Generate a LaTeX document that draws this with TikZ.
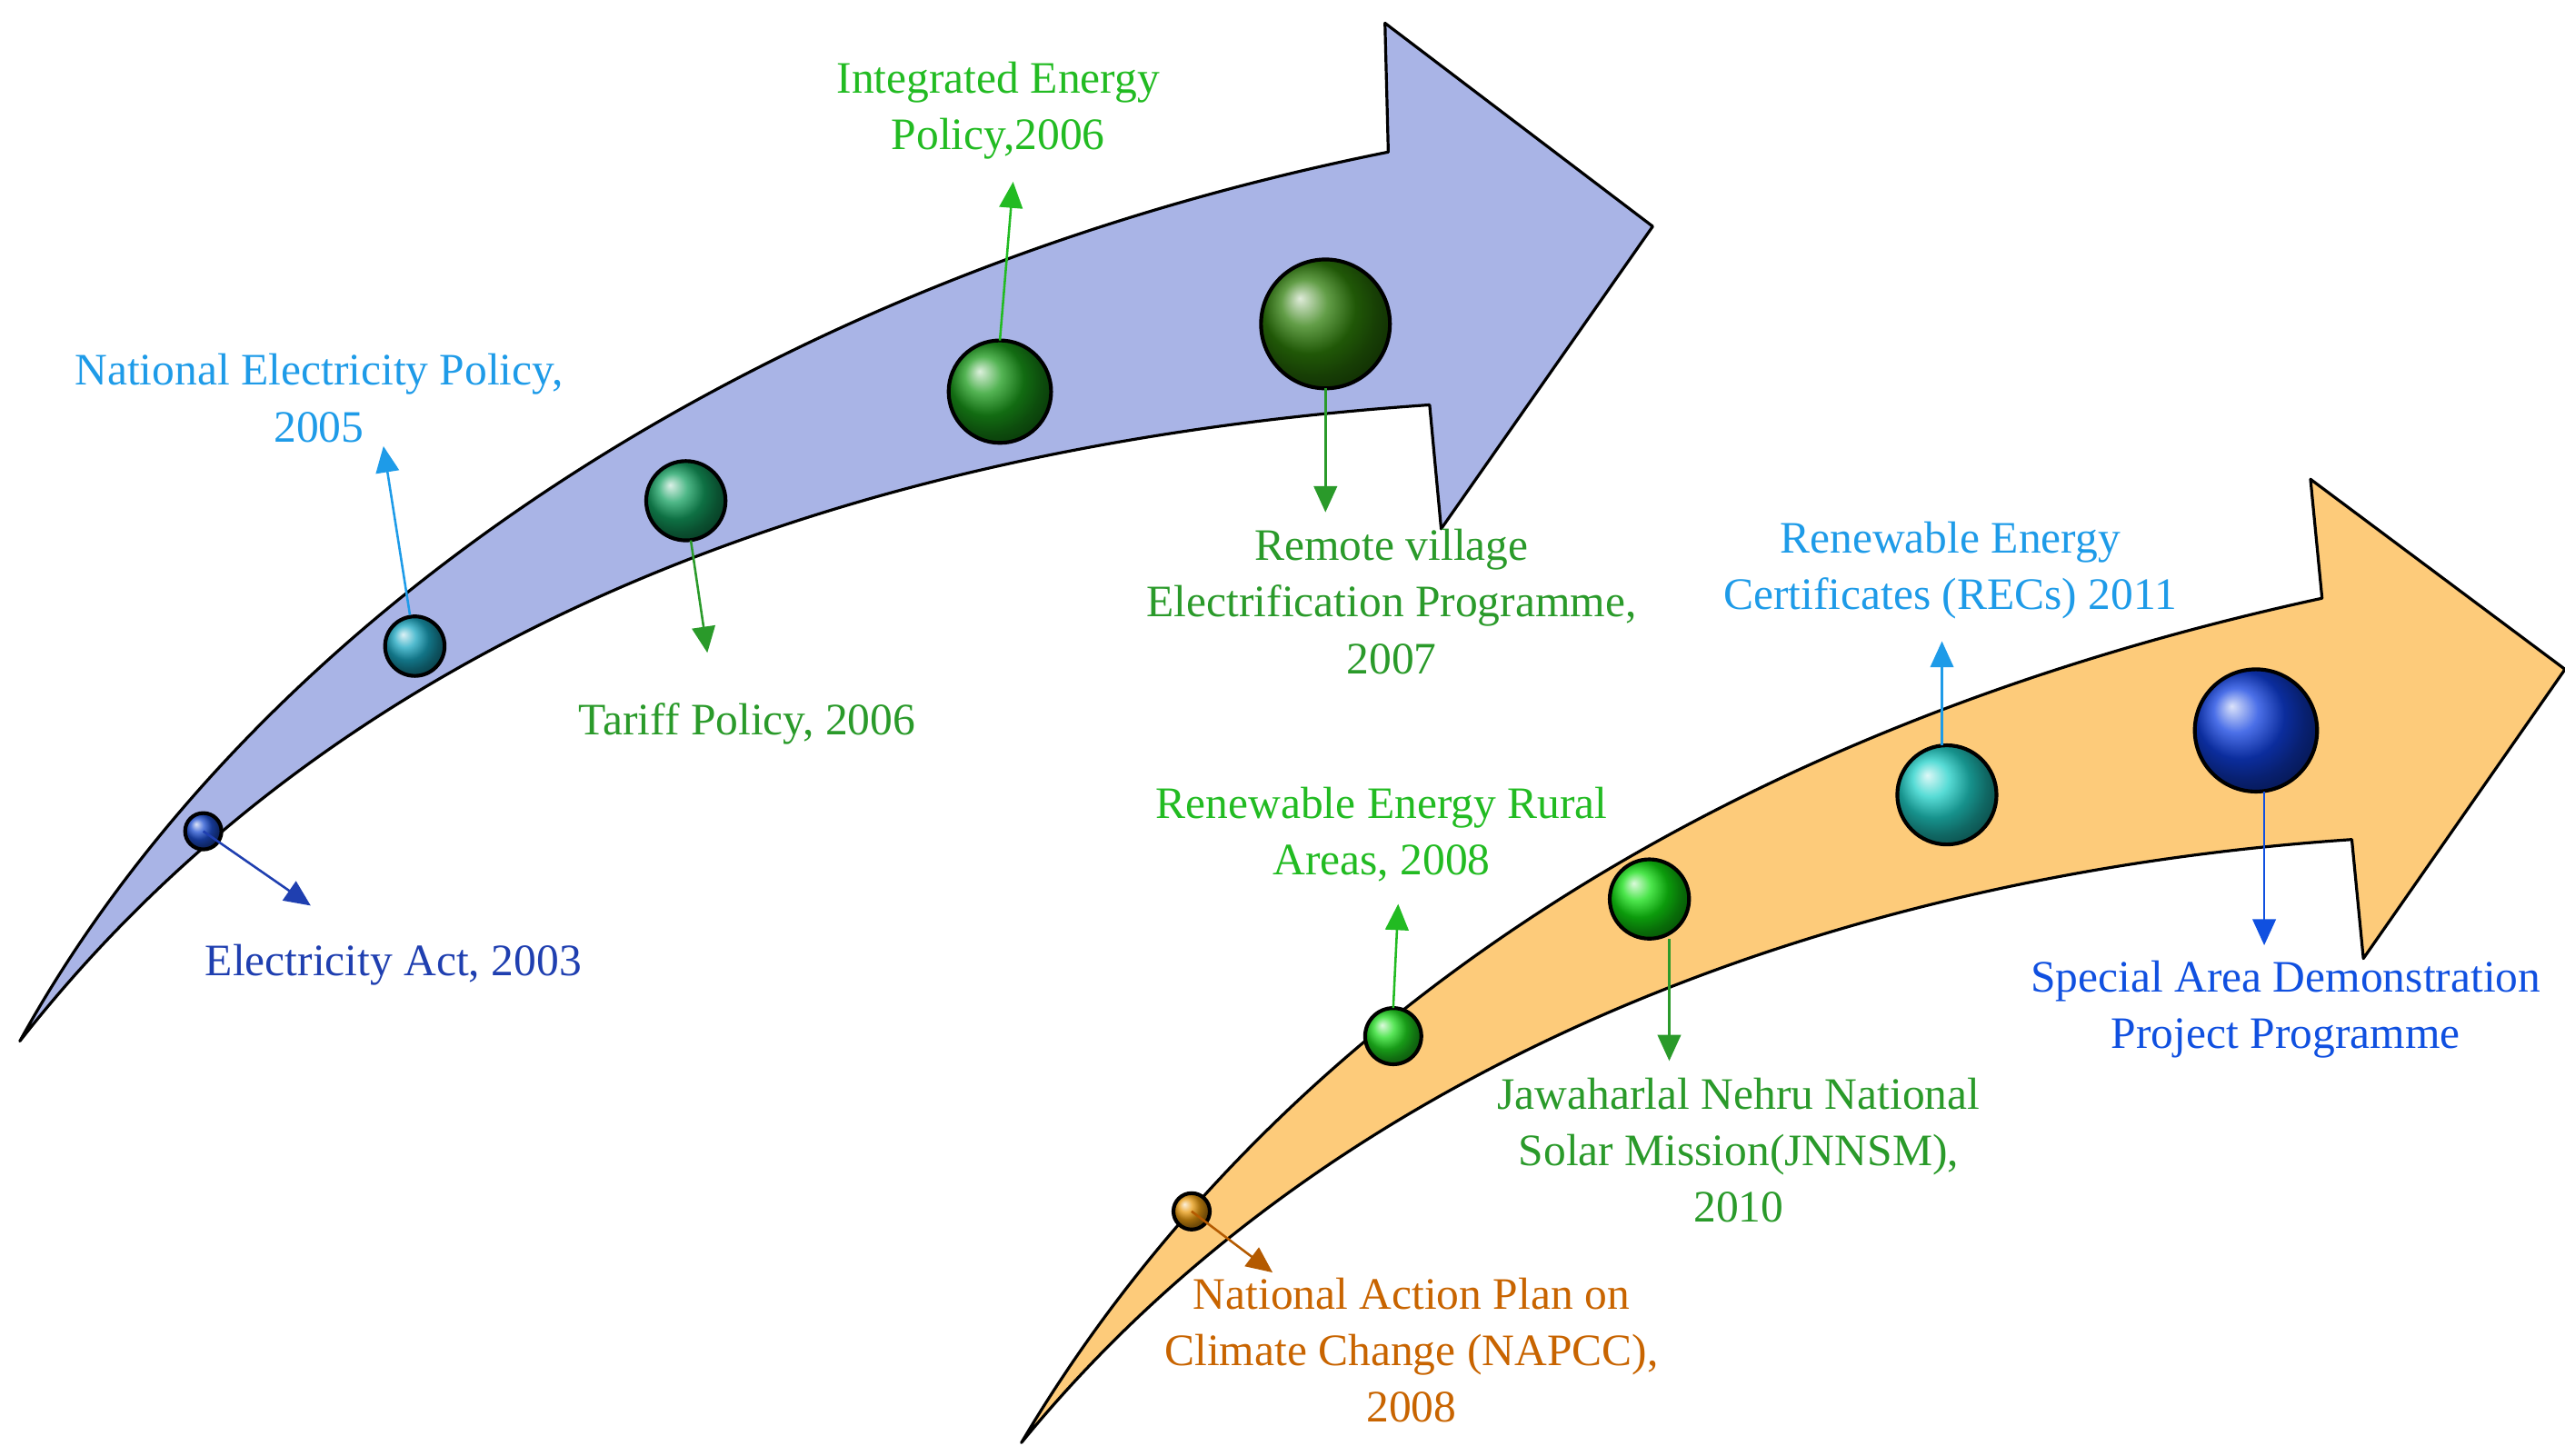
\documentclass[tikz,border=0pt]{standalone}
\usepackage{fontspec}
\setmainfont{Liberation Serif}
\usetikzlibrary{arrows.meta}
\begin{document}
\begin{tikzpicture}[x=0.02cm,y=-0.02cm,
  lbl/.style={align=center,font=\fontsize{15.5}{19.5}\selectfont},
  ptr/.style={-{Triangle[length=9pt,width=8pt]},line width=0.8pt},
  ballst/.style={circle,draw=black,line width=1.3pt,inner sep=0pt}]
\useasboundingbox (0,0) rectangle (1552,881);
% arrows
\draw[fill={rgb,255:red,169;green,180;blue,230},line width=1pt,line join=round]
 (12,630) .. controls (150,380) and (450,170) .. (840,92) -- (838,14) -- (1000,137) -- (872,320) -- (865,245)
 .. controls (500,270) and (200,390) .. cycle;
\draw[fill={rgb,255:red,253;green,203;blue,122},line width=1pt,line join=round]
 (618,873) .. controls (750,650) and (1000,450) .. (1405,362) -- (1398,290) -- (1552,405) -- (1430,580) -- (1423,508)
 .. controls (1100,530) and (800,650) .. cycle;
% balls
\definecolor{b1}{HTML}{1E4FD0}\definecolor{b2}{HTML}{1AA6C0}\definecolor{b3}{HTML}{14A060}
\definecolor{b4}{HTML}{1A9A1A}\definecolor{b5}{HTML}{2E7D0A}\definecolor{c1}{HTML}{E89A10}
\definecolor{c2}{HTML}{22DD22}\definecolor{c3}{HTML}{11DD11}\definecolor{c4}{HTML}{20D0C8}\definecolor{c5}{HTML}{1040E0}
\node[ballst,ball color=b1,minimum size=22*0.02cm] (B1) at (123,503) {};
\node[ballst,ball color=b2,minimum size=36*0.02cm] (B2) at (251,391) {};
\node[ballst,ball color=b3,minimum size=48*0.02cm] (B3) at (415,303) {};
\node[ballst,ball color=b4,minimum size=62*0.02cm] (B4) at (605,237) {};
\node[ballst,ball color=b5,minimum size=78*0.02cm] (B5) at (802,196) {};
\node[ballst,ball color=c1,minimum size=22*0.02cm] (C1) at (721,733) {};
\node[ballst,ball color=c2,minimum size=34*0.02cm] (C2) at (843,627) {};
\node[ballst,ball color=c3,minimum size=48*0.02cm] (C3) at (998,544) {};
\node[ballst,ball color=c4,minimum size=60*0.02cm] (C4) at (1178,481) {};
\node[ballst,ball color=c5,minimum size=74*0.02cm] (C5) at (1365,442) {};
% colours
\definecolor{dblue}{HTML}{1F3FB0}\definecolor{sky}{HTML}{1E9BE8}\definecolor{dgreen}{HTML}{2A9A2A}
\definecolor{lgreen}{HTML}{22BB22}\definecolor{orng}{HTML}{C86400}\definecolor{blu}{HTML}{1050E0}
% arrow ends
\coordinate (e1) at (188,548); \coordinate (e2) at (232,270); \coordinate (e3) at (428,395);
\coordinate (e4) at (613,110); \coordinate (e5) at (802,310); \coordinate (f1) at (770,770);
\coordinate (f2) at (846,547); \coordinate (f3) at (1010,642); \coordinate (f4) at (1175,388);
\coordinate (f5) at (1370,572);
\draw[ptr,dblue] (B1.center) -- (e1);
\draw[ptr,sky] (B2) -- (e2);
\draw[ptr,dgreen] (B3.center) ++(3,24) -- (e3);
\draw[ptr,lgreen] (B4.center) ++(0,-31) -- (e4);
\draw[ptr,dgreen] (B5.center) ++(0,39) -- (e5);
\draw[ptr,orng!90!black] (C1.center) -- (f1);
\draw[ptr,lgreen] (C2.center) ++(0,-17) -- (f2);
\draw[ptr,dgreen] (1010,568) -- (f3);
\draw[ptr,sky] (1175,451) -- (f4);
\draw[ptr,blu] (1370,479) -- (f5);
% labels
\node[lbl,text=dblue] (t1) at (238,584) {Electricity Act, 2003};
\node[lbl,text=sky] (t2) at (193,241) {National Electricity Policy,\\2005};
\node[lbl,text=dgreen] (t3) at (452,438) {Tariff Policy, 2006};
\node[lbl,text=lgreen] (t4) at (604,67) {Integrated Energy\\Policy,2006};
\node[lbl,text=dgreen] (t5) at (842,364) {Remote village\\Electrification Programme,\\2007};
\node[lbl,text=orng] (u1) at (854,817) {National Action Plan on\\Climate Change (NAPCC),\\2008};
\node[lbl,text=lgreen] (u2) at (836,505) {Renewable Energy Rural\\Areas, 2008};
\node[lbl,text=dgreen] (u3) at (1052,696) {Jawaharlal Nehru National\\Solar Mission(JNNSM),\\2010};
\node[lbl,text=sky] (u4) at (1180,345) {Renewable Energy\\Certificates (RECs) 2011};
\node[lbl,text=blu] (u5) at (1383,611) {Special Area Demonstration\\Project Programme};
\end{tikzpicture}
\end{document}
